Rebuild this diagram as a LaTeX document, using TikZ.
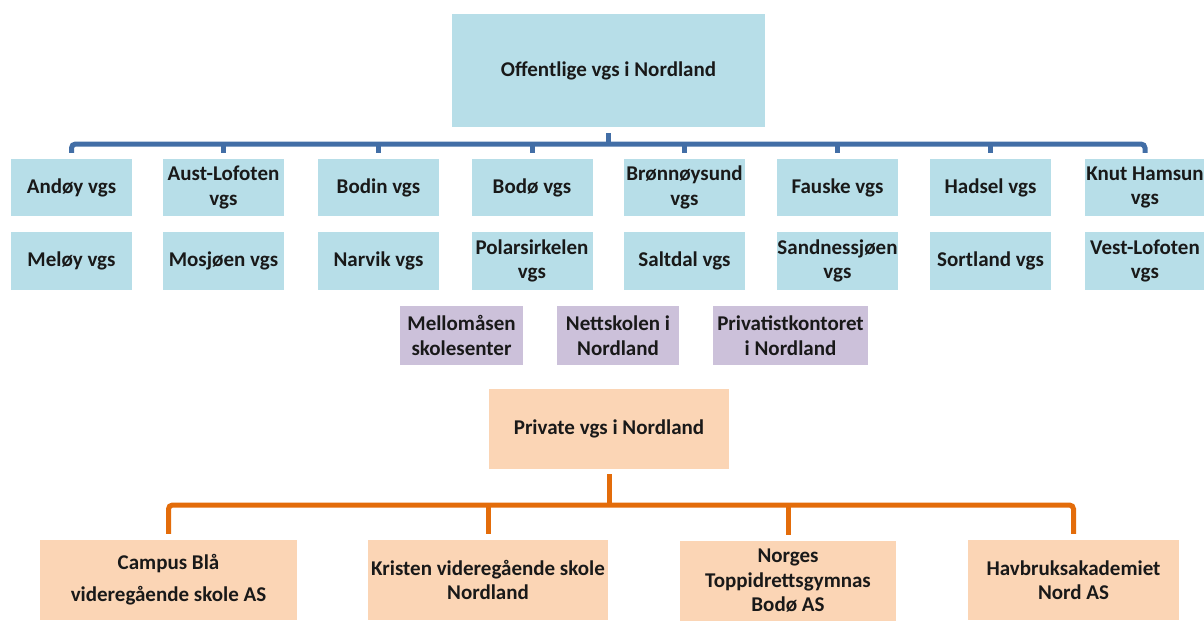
\documentclass[tikz,border=0pt]{standalone}
\usepackage{fontspec}
\setmainfont{Carlito}
\definecolor{bluebox}{HTML}{B7DEE8}
\definecolor{purplebox}{HTML}{CCC1DA}
\definecolor{orangebox}{HTML}{FBD5B5}
\definecolor{blueline}{HTML}{426EA6}
\definecolor{orangeline}{HTML}{E36C0A}
\tikzset{
  box/.style={inner sep=0pt, align=center, font=\fontsize{21}{24.5}\selectfont\bfseries, text=black!90},
  bbox/.style={box, fill=bluebox, minimum width=121pt, minimum height=57pt},
  pbox/.style={box, fill=purplebox, minimum height=59pt},
  obox/.style={box, fill=orangebox, minimum height=80pt},
  bluebus/.style={draw=blueline, line width=5pt, rounded corners=4pt},
  orangebus/.style={draw=orangeline, line width=5pt, rounded corners=4pt}
}
\begin{document}
\begin{tikzpicture}[x=1pt,y=-1pt]
\useasboundingbox (0,0) rectangle (1204,621);
% top
\node[box, fill=bluebox, minimum width=313pt, minimum height=113pt] (top) at (608.5,70.5) {Offentlige vgs i Nordland};
% row 1
\node[bbox] (a1) at (71.5,187.5) {Andøy vgs};
\node[bbox] (a2) at (223.5,187.5) {Aust-Lofoten\\vgs};
\node[bbox] (a3) at (378.5,187.5) {Bodin vgs};
\node[bbox] (a4) at (532,187.5) {Bodø vgs};
\node[bbox] (a5) at (684.5,187.5) {Brønnøysund\\vgs};
\node[bbox] (a6) at (837.5,187.5) {Fauske vgs};
\node[bbox] (a7) at (990.5,187.5) {Hadsel vgs};
\node[bbox, minimum width=120pt] (a8) at (1145,187.5) {Knut Hamsun\\vgs};
% row 2
\node[bbox, minimum height=58pt] (b1) at (71.5,261) {Meløy vgs};
\node[bbox, minimum height=58pt] (b2) at (223.5,261) {Mosjøen vgs};
\node[bbox, minimum height=58pt] (b3) at (378.5,261) {Narvik vgs};
\node[bbox, minimum height=58pt] (b4) at (532,261) {Polarsirkelen\\vgs};
\node[bbox, minimum height=58pt] (b5) at (684.5,261) {Saltdal vgs};
\node[bbox, minimum height=58pt] (b6) at (837.5,261) {Sandnessjøen\\vgs};
\node[bbox, minimum height=58pt] (b7) at (990.5,261) {Sortland vgs};
\node[bbox, minimum height=58pt, minimum width=120pt] (b8) at (1145,261) {Vest-Lofoten\\vgs};
% purple
\node[pbox, minimum width=123pt] (p1) at (461.5,335.5) {Mellomåsen\\skolesenter};
\node[pbox, minimum width=122pt] (p2) at (618,335.5) {Nettskolen i\\Nordland};
\node[pbox, minimum width=155pt] (p3) at (790.5,335.5) {Privatistkontoret\\i Nordland};
% private
\node[obox, minimum width=240pt] (priv) at (609,429) {Private vgs i Nordland};
\node[obox, minimum width=257pt, font=\fontsize{21}{32}\selectfont\bfseries] (c1) at (168.5,580) {Campus Blå\\videregående skole AS};
\node[obox, minimum width=240pt] (c2) at (488,580) {Kristen videregående skole\\Nordland};
\node[obox, minimum width=216pt] (c3) at (788,581) {Norges\\Toppidrettsgymnas\\Bodø AS};
\node[obox, minimum width=211pt] (c4) at (1073.5,580) {Havbruksakademiet\\Nord AS};
% blue bus
\coordinate (bbus) at (608,144);
\draw[bluebus] ([yshift=-6pt]top.south) -- (top.south |- bbus);
\draw[bluebus] ([yshift=6pt]a1.north) |- (bbus) -| ([yshift=6pt]a8.north);
\foreach \n in {a2,a3,a4,a5,a6,a7}
  \draw[bluebus] ([yshift=6pt]\n.north) -- (\n.north |- bbus);
% orange bus
\coordinate (obus) at (609,505);
\draw[orangebus] ([yshift=-5pt]priv.south) -- (priv.south |- obus);
\draw[orangebus] ([yshift=6pt]c1.north) |- (obus) -| ([yshift=6pt]c4.north);
\foreach \n in {c2,c3}
  \draw[orangebus] ([yshift=6pt]\n.north) -- (\n.north |- obus);
\end{tikzpicture}
\end{document}
